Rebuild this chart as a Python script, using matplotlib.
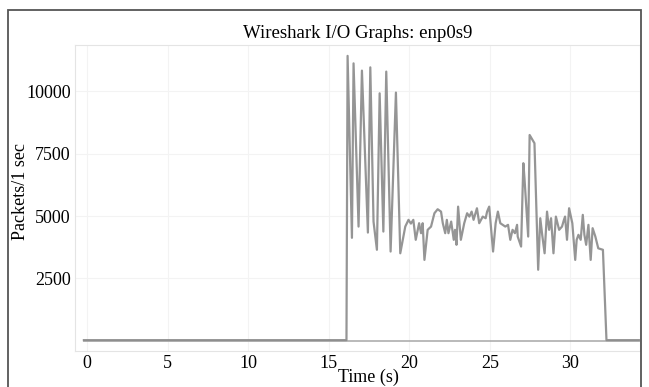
import matplotlib
matplotlib.use("Agg")
import matplotlib.pyplot as plt
from matplotlib.patches import Rectangle

# main I/O graph series (time in s, packets per interval)
t_main = [-0.2, 16.1, 16.17, 16.44, 16.54, 16.85, 17.06, 17.43, 17.58, 17.78, 17.99,
          18.16, 18.39, 18.57, 18.84, 19.17, 19.44, 19.75, 19.95, 20.1, 20.25, 20.4,
          20.61, 20.73, 20.83, 20.94, 21.14, 21.35, 21.56, 21.76, 21.97, 22.08, 22.23,
          22.33, 22.43, 22.6, 22.76, 22.84, 22.93, 23.03, 23.2, 23.41, 23.59, 23.73,
          23.87, 23.99, 24.2, 24.34, 24.56, 24.74, 24.83, 24.96, 25.2, 25.36, 25.5,
          25.65, 25.96, 26.13, 26.27, 26.41, 26.56, 26.69, 26.73, 26.94, 27.08, 27.15,
          27.38, 27.47, 27.77, 28.0, 28.13, 28.25, 28.4, 28.55, 28.68, 28.8, 28.95,
          29.1, 29.3, 29.48, 29.6, 29.67, 29.79, 29.92, 30.12, 30.3, 30.39, 30.5,
          30.64, 30.77, 30.87, 30.98, 31.12, 31.26, 31.38, 31.55, 31.73, 32.02, 32.24,
          34.5]
pkts_main = [30, 30, 11420, 4130, 11120, 4580, 10830, 4340, 10960, 4780, 3650,
             9920, 4380, 10790, 3580, 9950, 3510, 4580, 4850, 4700, 4850, 4050,
             4715, 4315, 4715, 3245, 4450, 4580, 5115, 5275, 5180, 4715, 4315,
             4850, 4315, 4780, 4050, 4450, 3850, 5380, 4050, 4715, 5115, 4980,
             5180, 4850, 5315, 4715, 4980, 4915, 5180, 5380, 3580, 4715, 5180,
             4715, 4580, 4650, 4050, 4450, 4315, 4650, 4180, 3780, 7120, 6520,
             4180, 8250, 7920, 2850, 4915, 4250, 3510, 5180, 4450, 4915, 3510,
             4980, 4450, 4580, 4850, 4980, 4050, 5315, 4715, 3245, 4050, 4250,
             4050, 5050, 4250, 3850, 4650, 3245, 4515, 4180, 3710, 3650, 30,
             30]

# second graph, flat at zero
t_zero = [-0.2, 34.5]
pkts_zero = [0, 0]

x_ticks = [0, 5, 10, 15, 20, 25, 30]
y_ticks = [2500, 5000, 7500, 10000]

plt.rcParams['font.family'] = ['Liberation Serif', 'DejaVu Serif']

fig = plt.figure(figsize=(6.49, 3.87), dpi=100)
ax = fig.add_axes([0.1156, 0.094, 0.870, 0.79])

ax.plot(t_zero, pkts_zero, color='#a8a8a8', lw=1.4, alpha=0.8)
ax.plot(t_main, pkts_main, color='#8a8a8a', lw=1.6, alpha=0.9)

ax.set_xlim(-0.75, 34.3)
ax.set_ylim(-390, 11860)
ax.set_xticks(x_ticks)
ax.set_yticks(y_ticks)
ax.tick_params(length=0, labelsize=13, pad=3)
ax.grid(True, color='#f3f3f3', lw=0.8)
for s in ax.spines.values():
    s.set_color('#e4e4e4')
    s.set_linewidth(0.8)

ax.set_title("Wireshark I/O Graphs: enp0s9", fontsize=13.5, pad=5)
ax.set_xlabel("Time (s)", fontsize=13)
ax.set_ylabel("Packets/1 sec", fontsize=13)
ax.xaxis.set_label_coords(0.519, -0.058)
ax.yaxis.set_label_coords(-0.096, 0.522)
ax.yaxis.label.set_verticalalignment('center')

# outer frame around the whole graph window
fig.patches.append(Rectangle((8 / 649, -0.05), 633 / 649, 1.05 - 10 / 387,
                             transform=fig.transFigure, fill=False,
                             edgecolor='#555555', lw=1.3))

fig.savefig("out.png", dpi=100)
